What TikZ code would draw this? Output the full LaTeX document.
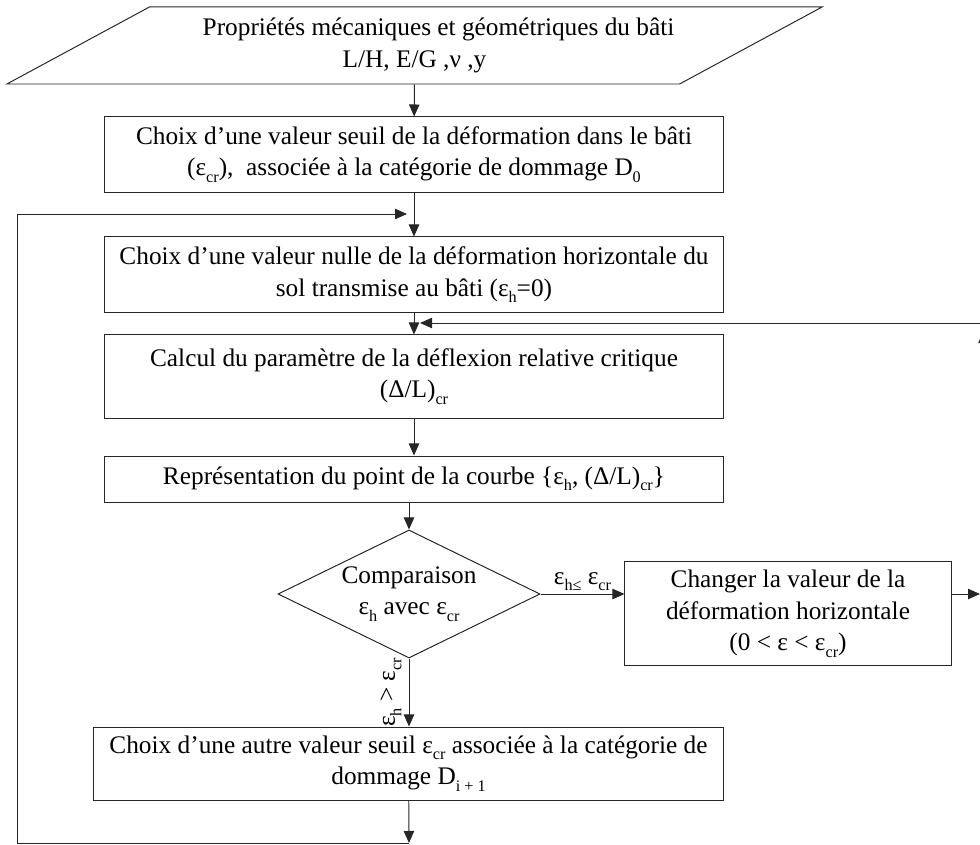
\documentclass[tikz,border=0pt]{standalone}
\usepackage{fontspec}
\setmainfont{Liberation Serif}
\usetikzlibrary{arrows.meta, positioning, shapes.geometric}

% low Word-style subscripts
\newcommand{\low}[1]{\raisebox{-0.55ex}{\fontsize{11.5}{11.5}\selectfont #1}}

\begin{document}
\begin{tikzpicture}[
  x=0.025cm, y=-0.025cm,
  >={Triangle[length=3mm,width=2.6mm]},
  every node/.style={font=\fontsize{18}{22.5}\selectfont},
  stepbox/.style={draw=black!85, line width=0.7pt, align=center,
                  minimum width=15.45cm, minimum height=1.875cm, inner sep=0pt},
  inputbox/.style={trapezium, trapezium left angle=21, trapezium right angle=159,
                   trapezium stretches body, draw=black!85, line width=0.7pt,
                   align=center, minimum width=20.375cm, minimum height=1.925cm,
                   inner sep=0pt},
  testbox/.style={diamond, aspect=2, draw=black!85, line width=0.7pt, align=center,
                  minimum width=6.55cm, minimum height=3.2cm, inner sep=0pt},
  flow/.style={->, line width=0.7pt, draw=black!85},
  lbl/.style={font=\fontsize{18}{20}\selectfont, inner sep=2pt}
]
  \useasboundingbox (0,0) rectangle (980,845);
  \clip (0,0) rectangle (980,845);

  \node[inputbox] (props) at (414.5,45.5)
    {\hspace*{1.2cm}Propriétés mécaniques et géométriques du bâti\\L/H, E/G ,ν ,y};
  \node[stepbox] (seuil) at (414,154.5)
    {Choix d’une valeur seuil de la déformation dans le bâti\\(ε\low{cr}),\ \ associée à la catégorie de dommage D\low{0}};
  \node[stepbox] (nulle) at (414,274.5)
    {Choix d’une valeur nulle de la déformation horizontale du\\sol transmise au bâti (ε\low{h}=0)};
  \node[stepbox, minimum height=2.075cm] (calcul) at (414,376.5)
    {Calcul du paramètre de la déflexion relative critique\\(Δ/L)\low{cr}};
  \node[stepbox, minimum height=1.15cm] (point) at (414,479)
    {Représentation du point de la courbe \{ε\low{h}, (Δ/L)\low{cr}\}};
  \node[testbox] (compar) at (409,594)
    {Comparaison\\ε\low{h} avec ε\low{cr}};
  \node[stepbox, minimum width=8.15cm, minimum height=2.575cm] (change) at (788,613.5)
    {Changer la valeur de la\\déformation horizontale\\(0 < ε < ε\low{cr})};
  \node[stepbox, minimum width=15.725cm, minimum height=1.825cm] (autre) at (408.5,763.5)
    {Choix d’une autre valeur seuil ε\low{cr} associée à la catégorie de\\dommage D\low{i + 1}};

  % loop points
  \coordinate (loopin) at (407,214);
  \coordinate (loopbot) at (409,843);
  \coordinate (rightin) at (420,323);
  \coordinate (rightsrc) at (990,323);
  \coordinate (rexit) at (980,594);
  \coordinate (rup) at (983.5,331);

  \draw[flow] (props) -- (seuil);
  \draw[flow] (seuil) -- (nulle);
  \draw[flow] (nulle) -- (calcul);
  \draw[flow] (calcul) -- (point);
  \draw[flow] (point.south -| compar.north) -- (compar.north);
  \draw[flow] (compar.east) -- node[lbl, above]{ε\low{h≤} ε\low{cr}} (compar.east -| change.west);
  \draw[flow] (compar.south) -- node[lbl, anchor=south, rotate=90, inner sep=5pt]{ε\low{h} > ε\low{cr}} (compar.south |- autre.north);
  \draw[flow] (change.east |- compar.east) -- (rexit);
  \draw[flow] (autre) -- (loopbot);

  % back loops
  \draw[flow] (loopbot) -- ++(-392,0) |- (loopin);
  \draw[flow] (rightsrc) -- (rightin);
  \draw[flow] (983.5,360) -- (rup);
\end{tikzpicture}
\end{document}
